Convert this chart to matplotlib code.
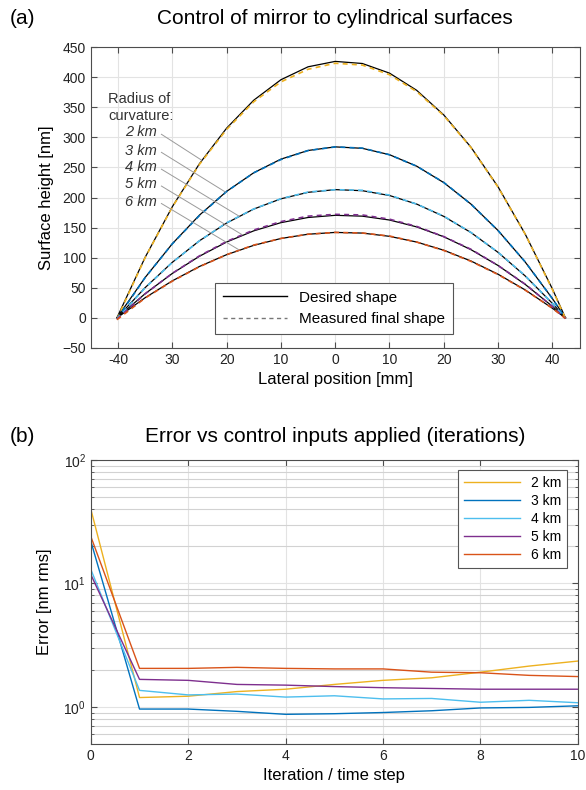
import numpy as np
import matplotlib.pyplot as plt
from matplotlib.ticker import LogLocator, NullFormatter

plt.rcParams['font.family'] = ['Liberation Sans', 'DejaVu Sans']

# ---- panel (a) data: lateral position [mm] and heights [nm]
radius_labels = ['2 km', '3 km', '4 km', '5 km', '6 km']
colors = ['#EDB120', '#0072BD', '#4DBEEE', '#7E2F8E', '#D95319']

xpos = [-40.2, -35, -30, -25, -20, -15, -10, -5, 0, 5, 10, 15, 20, 25, 30, 35, 40, 42.4]

desired_2km = [0, 100.6, 184.6, 256.1, 315.1, 361.6, 395.6, 417.1, 426.1, 422.6, 406.6, 378.1, 337.1, 283.6, 217.6, 139.1, 48.1, 0]
desired_3km = [0, 67.1, 123.1, 170.7, 210.1, 241.1, 263.7, 278.1, 284.1, 281.7, 271.1, 252.1, 224.7, 189.1, 145.1, 92.7, 32.1, 0]
desired_4km = [0, 50.3, 92.3, 128.1, 157.6, 180.8, 197.8, 208.6, 213.1, 211.3, 203.3, 189.1, 168.6, 141.8, 108.8, 69.6, 24.1, 0]
desired_5km = [0, 40.2, 73.8, 102.4, 126.0, 144.6, 158.2, 166.8, 170.4, 169.0, 162.6, 151.2, 134.8, 113.4, 87.0, 55.6, 19.2, 0]
desired_6km = [0, 33.5, 61.5, 85.4, 105.0, 120.5, 131.9, 139.0, 142.0, 140.9, 135.5, 126.0, 112.4, 94.5, 72.5, 46.4, 16.0, 0]

measured_2km = [-2, 100, 184, 255, 313, 359, 392, 413, 423, 420, 404, 376, 336, 283, 217, 139, 47, -1]
measured_3km = [-2, 67, 123, 170, 210, 241, 263, 278, 284, 282, 271, 252, 225, 189, 145, 93, 32, -1]
measured_4km = [-2, 50, 92, 128, 158, 181, 198, 209, 213, 212, 204, 189, 169, 142, 109, 70, 24, -1]
measured_5km = [-2, 40, 74, 103, 127, 146, 160, 169, 172, 171, 164, 152, 135, 114, 87, 56, 19, -1]
measured_6km = [-3, 33, 61, 85, 105, 121, 132, 139, 142, 141, 136, 126, 112, 94, 72, 46, 16, -1]

desired = [desired_2km, desired_3km, desired_4km, desired_5km, desired_6km]
measured = [measured_2km, measured_3km, measured_4km, measured_5km, measured_6km]

# label anchors and where the leader lines hit the curves
label_y = [308, 278, 250, 222, 193]
leader_end_x = [-24.6, -20.2, -17.7, -17.1, -17.7]
leader_end_y = [262, 209, 169, 138, 113]

xticks_a = [-40, -30, -20, -10, 0, 10, 20, 30, 40]
xticklabels_a = ['-40', '30', '20', '10', '0', '10', '20', '30', '40']

# ---- panel (b) data: rms error [nm] vs iteration
iterations = [0, 1, 2, 3, 4, 5, 6, 7, 8, 9, 10]
err_2km = [40.0, 1.19, 1.22, 1.33, 1.39, 1.52, 1.64, 1.72, 1.91, 2.14, 2.35]
err_3km = [22.0, 0.96, 0.96, 0.92, 0.87, 0.88, 0.90, 0.93, 0.98, 0.99, 1.02]
err_4km = [13.0, 1.36, 1.25, 1.27, 1.20, 1.23, 1.16, 1.17, 1.09, 1.13, 1.08]
err_5km = [11.8, 1.67, 1.64, 1.52, 1.50, 1.46, 1.43, 1.41, 1.39, 1.39, 1.39]
err_6km = [24.0, 2.05, 2.05, 2.09, 2.05, 2.03, 2.03, 1.91, 1.89, 1.80, 1.76]
errors = [err_2km, err_3km, err_4km, err_5km, err_6km]

axis_col = '#4d4d4d'
grid_col = '#e3e3e3'

fig = plt.figure(figsize=(5.86, 7.90), dpi=100)


def style_axes(ax):
    for s in ax.spines.values():
        s.set_color(axis_col)
        s.set_linewidth(0.8)
    ax.tick_params(which='both', direction='in', top=True, right=True,
                   colors=axis_col, labelcolor='#222222', labelsize=10)
    ax.tick_params(which='major', length=4)
    ax.tick_params(which='minor', length=2)


# ---------------- (a)
ax1 = fig.add_axes([0.155, 0.5595, 0.834, 0.381])
for d, m, c in zip(desired, measured, colors):
    ax1.plot(xpos, d, color='black', lw=0.9, zorder=3)
    ax1.plot(xpos, m, color=c, lw=1.2, ls=(0, (3, 2.5)), zorder=4)

ax1.text(-41.8, 363, 'Radius of', fontsize=10.5, va='center', ha='left', color='#333333')
ax1.text(-41.8, 335, 'curvature:', fontsize=10.5, va='center', ha='left', color='#333333')
for lab, ly, ex, ey in zip(radius_labels, label_y, leader_end_x, leader_end_y):
    ax1.text(-32.8, ly, lab, fontsize=10.5, style='italic', ha='right', va='center', color='#333333')
    ax1.plot([-32.0, ex], [ly - 3, ey], color='#9a9a9a', lw=0.7, zorder=5)

ax1.plot([], [], color='black', lw=1.0, label='Desired shape')
ax1.plot([], [], color='#777777', lw=1.0, ls=(0, (3, 2.5)), label='Measured final shape')
leg1 = ax1.legend(loc='lower left', bbox_to_anchor=(0.254, 0.047), borderaxespad=0,
                  fontsize=11, fancybox=False, framealpha=1, edgecolor='#555555',
                  handlelength=4.2, borderpad=0.5)
leg1.get_frame().set_linewidth(0.8)

ax1.set_xlim(-45, 45)
ax1.set_ylim(-50, 450)
ax1.set_xticks(xticks_a)
ax1.set_xticklabels(xticklabels_a)
ax1.set_yticks(np.arange(-50, 451, 50))
ax1.grid(True, color=grid_col, lw=0.8)
ax1.set_axisbelow(True)
style_axes(ax1)
ax1.set_xlabel('Lateral position [mm]', fontsize=12)
ax1.set_ylabel('Surface height [nm]', fontsize=12, labelpad=6)
fig.text(0.572, 0.977, 'Control of mirror to cylindrical surfaces', fontsize=15, ha='center', va='center')
fig.text(0.017, 0.977, '(a)', fontsize=15, ha='left', va='center')

# ---------------- (b)
ax2 = fig.add_axes([0.155, 0.0582, 0.831, 0.3595])
for e, c, lab in zip(errors, colors, radius_labels):
    ax2.plot(iterations, e, color=c, lw=1.0, label=lab)
ax2.set_yscale('log')
ax2.set_xlim(0, 10)
ax2.set_ylim(0.5, 100)
ax2.set_xticks([0, 2, 4, 6, 8, 10])
ax2.yaxis.set_minor_locator(LogLocator(base=10, subs=np.arange(2, 10)))
ax2.yaxis.set_minor_formatter(NullFormatter())
ax2.grid(True, which='major', color=grid_col, lw=0.8)
ax2.grid(True, which='minor', axis='y', color='#d2d2d2', lw=0.8)
ax2.set_axisbelow(True)
style_axes(ax2)
ax2.set_xlabel('Iteration / time step', fontsize=12)
ax2.set_ylabel('Error [nm rms]', fontsize=12, labelpad=8)
leg2 = ax2.legend(loc='upper right', bbox_to_anchor=(0.977, 0.965), borderaxespad=0,
                  fontsize=10, fancybox=False, framealpha=1, edgecolor='#555555',
                  handlelength=4.0, labelspacing=0.3, markerfirst=True)
leg2.get_frame().set_linewidth(0.8)
for t in leg2.get_texts():
    t.set_ha('right')
fig.text(0.572, 0.448, 'Error vs control inputs applied (iterations)', fontsize=15, ha='center', va='center')
fig.text(0.017, 0.448, '(b)', fontsize=15, ha='left', va='center')

fig.savefig('out.png', dpi=100)
